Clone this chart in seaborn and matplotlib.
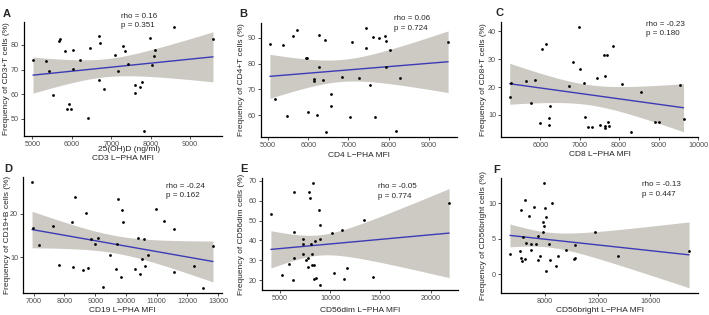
import matplotlib
matplotlib.use("Agg")
import matplotlib.pyplot as plt
import seaborn as sns
import numpy as np
import pandas as pd

# panel A: CD3
a_x = [5017, 5358, 5425, 5525, 5667, 5708, 5833, 5867, 5925, 5983, 6025, 6042, 6208, 6408,
       6467, 6683, 6708, 6683, 6825, 7092, 7175, 7292, 7342, 7425, 7608, 7608, 7742, 7775,
       7825, 7992, 8042, 8092, 8108, 8592, 9583]
a_y = [74.0, 73.5, 69.3, 59.6, 81.6, 82.5, 77.6, 53.9, 55.9, 53.9, 78.0, 70.3, 74.0, 50.5,
       78.9, 83.7, 80.7, 65.7, 62.3, 76.1, 69.5, 79.7, 77.7, 72.1, 63.7, 60.4, 62.8, 65.1,
       45.2, 82.8, 71.9, 75.6, 78.0, 87.2, 82.3]
# panel B: CD4
b_x = [5048, 5185, 5363, 5468, 5621, 5718, 5952, 5968, 5992, 6153, 6153, 6218, 6258, 6274,
       6355, 6427, 6435, 6556, 6573, 6839, 7040, 7097, 7266, 7427, 7444, 7540, 7621, 7661,
       7750, 7903, 7927, 7927, 8032, 8185, 8290, 9476]
b_y = [87.7, 66.2, 87.2, 59.6, 90.5, 93.1, 82.3, 82.1, 61.2, 74.0, 73.3, 60.0, 91.2, 78.7,
       73.6, 89.0, 53.6, 68.1, 63.5, 74.9, 59.4, 88.5, 74.5, 93.7, 86.2, 71.7, 90.3, 59.4,
       90.0, 90.6, 88.6, 78.6, 85.4, 53.8, 74.6, 88.2]
# panel C: CD8
c_x = [5224, 5249, 5633, 5763, 5878, 5984, 6033, 6147, 6229, 6229, 6253, 6735, 6841, 6980,
       6996, 7118, 7143, 7200, 7306, 7429, 7510, 7616, 7633, 7633, 7633, 7698, 7714, 7755,
       7853, 8082, 8302, 8555, 8922, 9004, 9535, 9633]
c_y = [16.5, 21.3, 22.0, 14.3, 22.5, 7.0, 33.6, 35.4, 8.8, 6.4, 13.2, 20.2, 28.9, 41.4,
       26.3, 21.5, 9.2, 5.8, 5.6, 23.3, 6.4, 31.4, 23.9, 6.1, 5.4, 31.4, 7.4, 6.0,
       34.6, 21.1, 4.0, 18.1, 7.5, 7.5, 20.7, 8.6]
# panel D: CD19
d_x = [6947, 6968, 7160, 7620, 7834, 8231, 8272, 8337, 8593, 8690, 8776, 8849, 9000, 9083,
       9266, 9490, 9683, 9724, 9738, 9843, 9888, 9897, 10282, 10378, 10452, 10516, 10571,
       10622, 10708, 10989, 11253, 11574, 11551, 12219, 12497, 12829]
d_y = [27.2, 16.8, 12.8, 17.2, 8.3, 18.1, 7.8, 23.8, 7.0, 20.2, 7.5, 14.1, 13.1, 14.3,
       3.2, 10.6, 7.3, 13.1, 23.3, 5.5, 20.8, 18.1, 7.4, 14.3, 6.2, 9.6, 14.2,
       8.0, 10.6, 21.0, 18.3, 16.4, 6.6, 7.9, 3.0, 12.6]
# panel E: CD56dim
e_x = [4097, 5226, 5935, 6355, 6326, 6423, 6423, 7323, 7323, 7323, 7550, 7743, 7807, 7875,
       8001, 8100, 8166, 8166, 8291, 8359, 8388, 8524, 8620, 8872, 8940, 8940, 8940, 10227,
       10392, 11195, 11360, 11679, 13323, 14258, 21839]
e_y = [53.4, 22.7, 28.1, 64.5, 20.1, 44.4, 31.3, 40.6, 38.1, 33.2, 30.0, 26.6, 31.3, 64.5,
       61.6, 38.2, 27.4, 33.2, 68.9, 27.7, 20.4, 39.8, 20.9, 55.2, 40.6, 47.9, 17.6, 43.9,
       23.7, 45.3, 20.8, 26.1, 50.2, 21.6, 58.9]
# panel F: CD56bright
f_x = [5383, 6148, 6198, 6222, 6296, 6370, 6494, 6519, 6617, 6815, 6938, 6963, 7235, 7383,
       7506, 7531, 7679, 7852, 7901, 7926, 7975, 8049, 8074, 8099, 8346, 8420, 8568, 8840,
       9037, 9580, 10198, 10272, 10321, 11827, 13580, 18914]
f_y = [2.9, 3.3, 9.0, 2.2, 1.9, 5.2, 2.1, 10.5, 4.4, 8.2, 4.2, 3.4, 9.4, 4.2,
       5.4, 2.0, 2.5, 7.4, 6.0, 6.8, 12.8, 9.3, 0.5, 8.0, 4.2, 2.0, 10.0, 1.1,
       2.6, 3.4, 2.1, 4.1, 2.3, 5.9, 2.5, 3.3]

letters = ["A", "B", "C", "D", "E", "F"]
xlabels = ["CD3 L\u2212PHA MFI", "CD4 L\u2212PHA MFI", "CD8 L\u2212PHA MFI",
           "CD19 L\u2212PHA MFI", "CD56dim L\u2212PHA MFI", "CD56bright L\u2212PHA MFI"]
ylabels = ["Frequency of CD3+T cells (%)", "Frequency of CD4+T cells (%)",
           "Frequency of CD8+T cells (%)", "Frequency of CD19+B cells (%)",
           "Frequency of CD56dim cells (%)", "Frequency of CD56bright cells (%)"]
rho_txt = ["rho = 0.16", "rho = 0.06", "rho = -0.23", "rho = -0.24", "rho = -0.05", "rho = -0.13"]
p_txt = ["p = 0.351", "p = 0.724", "p = 0.180", "p = 0.162", "p = 0.774", "p = 0.447"]
xticks = [[5000, 6000, 7000, 8000, 9000], [5000, 6000, 7000, 8000, 9000],
          [6000, 7000, 8000, 9000, 10000], list(range(7000, 13001, 1000)),
          [5000, 10000, 15000, 20000], [8000, 12000, 16000]]
yticks = [[50, 60, 70, 80], [60, 70, 80, 90], [10, 20, 30, 40], [10, 20],
          [20, 30, 40, 50, 60, 70], [0, 5, 10]]

data = [(a_x, a_y), (b_x, b_y), (c_x, c_y), (d_x, d_y), (e_x, e_y), (f_x, f_y)]

# axes boxes in pixels: left, top, right, bottom
boxes = [(24, 22, 222, 136), (261, 23, 457, 137), (501, 22, 698, 137),
         (23, 177, 222, 293), (262, 178, 458, 290), (501, 178, 698, 293)]
letter_pos = [(3, 17), (239, 17), (495, 16), (4, 172), (240, 172), (493, 173)]
txt_pos = [(0.49, 1.08), (0.68, 1.07), (0.735, 1.01), (0.72, 0.95), (0.59, 0.955), (0.715, 0.97)]
ylab_x = [-0.086, -0.10, -0.09, -0.08, -0.107, -0.09]
xlab_y = [-0.20, -0.165, -0.15, -0.155, -0.18, -0.155]

sns.set_style("ticks")
plt.rcParams['font.family'] = ['Liberation Sans', 'DejaVu Sans']

W, H = 709, 315
fig = plt.figure(figsize=(W / 100, H / 100), dpi=100)

LINE = "#3b3bb5"
BAND = "#cdcac4"
GREY = "#4d4d4d"


def lm_band(x, y):
    x = np.asarray(x, float)
    y = np.asarray(y, float)
    n = len(x)
    b1, b0 = np.polyfit(x, y, 1)
    resid = y - (b0 + b1 * x)
    s = np.sqrt(np.sum(resid ** 2) / (n - 2))
    xs = np.linspace(x.min(), x.max(), 80)
    fit = b0 + b1 * xs
    se = s * np.sqrt(1 / n + (xs - x.mean()) ** 2 / np.sum((x - x.mean()) ** 2))
    t = 2.03
    return xs, fit, fit - t * se, fit + t * se


for i, (x, y) in enumerate(data):
    l, t, r, b = boxes[i]
    ax = fig.add_axes([l / W, 1 - b / H, (r - l) / W, (b - t) / H])
    df = pd.DataFrame({"x": x, "y": y})
    xs, fit, lo, hi = lm_band(x, y)
    ax.fill_between(xs, lo, hi, color=BAND, lw=0, zorder=1)
    sns.lineplot(x=xs, y=fit, ax=ax, color=LINE, lw=1.0, zorder=2)
    sns.scatterplot(data=df, x="x", y="y", ax=ax, color="black", s=4, linewidth=0, zorder=3)
    ax.set_xticks(xticks[i])
    ax.set_yticks(yticks[i])
    ax.tick_params(labelsize=5.2, labelcolor=GREY, length=2, width=0.6, pad=1.5, color="#333333")
    for sp in ["top", "right"]:
        ax.spines[sp].set_visible(False)
    for sp in ["left", "bottom"]:
        ax.spines[sp].set_linewidth(0.9)
        ax.spines[sp].set_color("black")
    ax.set_xlabel(xlabels[i], fontsize=6)
    ax.set_ylabel(ylabels[i], fontsize=6)
    ax.xaxis.set_label_coords(0.5, xlab_y[i])
    ax.yaxis.set_label_coords(ylab_x[i], 0.5)
    ax.xaxis.label.set_va("center")
    ax.yaxis.label.set_va("center")
    ax.text(txt_pos[i][0], txt_pos[i][1], rho_txt[i] + "\n" + p_txt[i], transform=ax.transAxes,
            fontsize=5.8, va="top", ha="left", linespacing=1.5, clip_on=False)
    fig.text(letter_pos[i][0] / W, 1 - letter_pos[i][1] / H, letters[i], fontsize=8,
             fontweight="bold", va="baseline", ha="left")
    if i == 0:
        ax.text(0.53, -0.115, "25(OH)D (ng/ml)", transform=ax.transAxes, fontsize=6,
                ha="center", va="center", color="#222222")

fig.savefig("out.png", dpi=100)
